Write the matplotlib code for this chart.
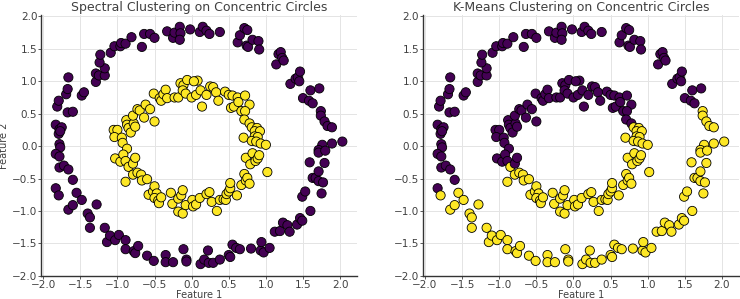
import numpy as np
import matplotlib
matplotlib.use("Agg")
import matplotlib.pyplot as plt

# points: outer ring
outer_x = [-1.81, -1.79, -1.69, -1.67, -1.66, -1.67, -1.60, -1.83, -1.78, -1.75, -1.79, -1.77, -1.78, -1.77,
           -1.48, -1.45, -1.29, -1.29, -1.25, -1.17, -1.17, -1.24, -1.23, -1.09, -1.04, -0.96, -0.95, -0.89,
           -0.81, -0.67, -0.64, -0.56, -0.50, -0.33, -0.25, -0.23, -0.16, -0.15, -0.16, -0.02, 0.11, 0.15,
           0.20, 0.24, 0.38, 0.62, 0.65, 0.71, 0.75, 0.74, 0.76, 0.82, 0.90, 0.91, 1.14, 1.17, 1.20, 1.22,
           1.24, 1.33, 1.40, 1.43, 1.46, 1.45, 1.50, 1.58, 1.63, 1.60, 1.72, 1.74, 1.74, 1.79, 1.83, 1.89,
           2.03, 1.89, 1.76, 1.71,
           -1.83, -1.78, -1.78, -1.72, -1.66, -1.60, -1.83, -1.79, -1.66, -1.60, -1.55, -1.48, -1.40, -1.37,
           -1.37, -1.28, -1.17, -1.14, -1.10, -1.03, -0.98, -0.89, -0.89, -0.78, -0.76, -0.72, -0.60, -0.51,
           -0.35, -0.35, -0.25, -0.11, -0.07, -0.07, 0.12, 0.17, 0.22, 0.23, 0.29, 0.38, 0.50, 0.52, 0.55,
           0.60, 0.65, 0.80, 0.93, 0.94, 0.97, 1.05, 1.12, 1.19, 1.23, 1.29, 1.32, 1.42, 1.46, 1.49, 1.49,
           1.53, 1.60, 1.63, 1.67, 1.59, 1.71, 1.75, 1.71, 1.77, 1.79, 1.71, 1.80]
outer_y = [0.61, 0.70, 0.80, 0.88, 1.06, 0.52, 0.53, 0.33, 0.26, 0.29, 0.19, 0.23, 0.03, -0.02,
           0.78, 0.83, 0.99, 1.12, 1.09, 1.09, 1.20, 1.29, 1.41, 1.44, 1.54, 1.54, 1.59, 1.58,
           1.68, 1.53, 1.73, 1.73, 1.67, 1.77, 1.67, 1.75, 1.84, 1.74, 1.64, 1.80, 1.76, 1.84,
           1.78, 1.73, 1.76, 1.60, 1.71, 1.82, 1.79, 1.55, 1.53, 1.64, 1.62, 1.49, 1.26, 1.42, 1.45, 1.36,
           1.32, 0.96, 1.04, 1.06, 1.15, 1.00, 0.74, 0.70, 0.66, 0.86, 0.89, 0.54, 0.47, 0.38, 0.31, 0.29,
           0.07, 0.04, 0.02, -0.06,
           -0.12, -0.16, -0.33, -0.30, -0.36, -0.52, -0.65, -0.76, -0.98, -0.91, -0.72, -0.83, -1.04, -1.10,
           -1.26, -0.90, -1.26, -1.48, -1.38, -1.45, -1.37, -1.45, -1.59, -1.62, -1.65, -1.54, -1.69, -1.77,
           -1.68, -1.79, -1.79, -1.59, -1.75, -1.78, -1.82, -1.75, -1.61, -1.80, -1.80, -1.75, -1.68, -1.71, -1.52,
           -1.57, -1.59, -1.58, -1.61, -1.48, -1.64, -1.57, -1.32, -1.31, -1.18, -1.22, -1.32, -1.21, -1.11, -1.15, -0.78,
           -0.70, -1.00, -0.49, -0.49, -0.25, -0.54, -0.73, -0.39, -0.56, -0.26, -0.10, -0.07]

# inner ring
inner_x = [-1.05, -1.00, -1.04, -0.94, -0.93, -0.88, -0.87, -0.85, -0.82, -0.78, -0.79, -0.76, -0.73, -0.70,
           -0.64, -0.62, -0.56, -0.50, -0.51, -0.43, -0.41, -0.38, -0.35, -0.33, -0.23, -0.18, -0.15, -0.11,
           -0.06, 0.08, 0.03, -0.12, -0.08, 0.00, 0.06, 0.12, 0.14, 0.20, 0.25, 0.29, 0.33, 0.36, 0.45,
           0.50, 0.55, 0.53, 0.57, 0.62, 0.63, 0.72, 0.78, 0.67, 0.72, 0.71, 0.78, 0.81, 0.88, 0.85, 0.92,
           0.70, 0.85, 0.89, 0.81, 0.87, 0.93, 1.00, -0.87,
           -1.03, -0.96, -0.92, -0.89, -0.85, -0.79, -0.76, -0.89, -0.79, -0.73, -0.68, -0.67, -0.60, -0.58,
           -0.52, -0.50, -0.47, -0.50, -0.45, -0.44, -0.41, -0.28, -0.26, -0.18, -0.14, -0.12, -0.18, -0.12,
           -0.08, 0.01, 0.02, 0.06, 0.11, 0.20, 0.24, 0.27, 0.34, 0.38, 0.43, 0.46, 0.47, 0.50, 0.52, 0.52,
           0.61, 0.67, 0.71, 0.73, 0.75, 0.78, 0.73, 0.82, 0.79, 0.86, 0.89, 0.91, 1.02]
inner_y = [0.25, 0.25, 0.14, 0.13, 0.05, 0.40, 0.33, 0.28, 0.21, 0.35, 0.47, 0.30, 0.57, 0.55,
           0.44, 0.64, 0.57, 0.38, 0.81, 0.74, 0.70, 0.80, 0.87, 0.74, 0.75, 0.75, 0.97, 0.94,
           1.02, 1.01, 1.00, 0.86, 0.81, 0.75, 0.79, 0.86, 0.61, 0.79, 0.92, 0.91, 0.83, 0.70, 0.84,
           0.79, 0.78, 0.59, 0.61, 0.75, 0.68, 0.78, 0.64, 0.54, 0.54, 0.41, 0.35, 0.29, 0.28, 0.23, 0.23,
           0.13, 0.15, 0.14, 0.08, 0.07, 0.04, 0.02, -0.04,
           -0.19, -0.24, -0.13, -0.23, -0.32, -0.27, -0.18, -0.55, -0.44, -0.41, -0.44, -0.53, -0.51, -0.75,
           -0.70, -0.62, -0.73, -0.80, -0.84, -0.88, -0.79, -0.72, -0.89, -0.81, -0.76, -0.68, -1.01, -1.04,
           -0.91, -0.83, -0.93, -0.90, -0.80, -0.74, -0.71, -0.86, -1.00, -0.83, -0.82, -0.83, -0.74, -0.70, -0.65, -0.57,
           -0.76, -0.60, -0.43, -0.53, -0.49, -0.58, -0.18, -0.11, -0.28, -0.23, -0.19, -0.14, -0.40]

# k-means cluster centres (estimated from the split in the right panel)
kmeans_centers = [(-0.31, 0.82), (0.31, -0.78)]

X = np.column_stack([outer_x + inner_x, outer_y + inner_y])
spectral_labels = np.array([0] * len(outer_x) + [1] * len(inner_x))
centers = np.array(kmeans_centers)
kmeans_labels = np.argmin(((X[:, None, :] - centers[None, :, :]) ** 2).sum(axis=2), axis=1)

text_col = "#404040"
plt.rcParams["font.family"] = "DejaVu Sans"

fig = plt.figure(figsize=(7.4, 2.99), dpi=100)
ax1 = fig.add_axes([0.056, 0.077, 0.426, 0.873])
ax2 = fig.add_axes([0.572, 0.077, 0.426, 0.873])

panels = [(ax1, spectral_labels, "Spectral Clustering on Concentric Circles"),
          (ax2, kmeans_labels, "K-Means Clustering on Concentric Circles")]

for ax, labels, title in panels:
    ax.scatter(X[:, 0], X[:, 1], c=labels, cmap="viridis", s=44, edgecolors="k", linewidths=0.6, zorder=3)
    ax.set_title(title, fontsize=9, color=text_col, pad=3)
    ax.set_xlabel("Feature 1", fontsize=7, color=text_col, labelpad=0)
    ax.set_xticks(np.arange(-2.0, 2.01, 0.5))
    ax.set_yticks(np.arange(-2.0, 2.01, 0.5))
    ax.grid(True, color="#e4e4e4", linewidth=0.7, zorder=0)
    ax.set_axisbelow(True)
    for side in ["top", "right"]:
        ax.spines[side].set_visible(False)
    for side in ["left", "bottom"]:
        ax.spines[side].set_color("#333333")
        ax.spines[side].set_linewidth(1.0)
    ax.tick_params(labelsize=7.5, colors=text_col, length=2, width=0.6, pad=1)

ax1.set_ylabel("Feature 2", fontsize=7, color=text_col, labelpad=2)

fig.savefig("out.png", dpi=100)
